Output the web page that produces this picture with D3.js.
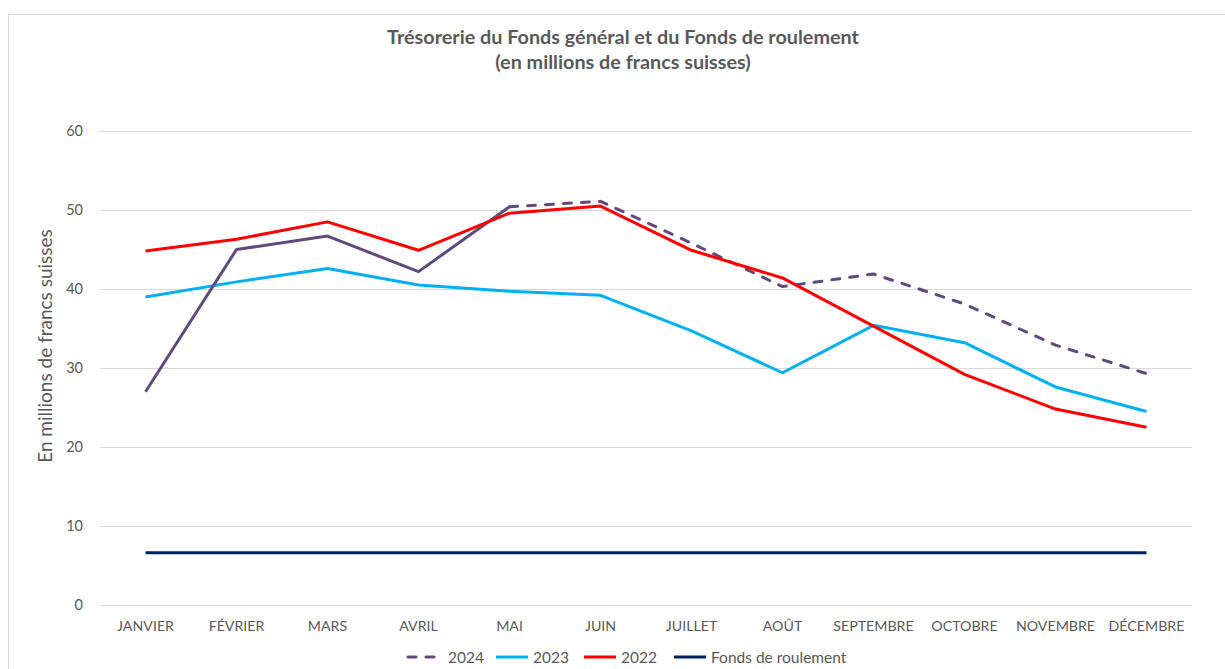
<!DOCTYPE html>
<html>
<head>
<meta charset="utf-8">
<script src="https://cdn.jsdelivr.net/npm/d3@7"></script>
<style>
  body { margin: 0; background: #fff; }
  text { font-family: Lato, "Open Sans", sans-serif; fill: #595959; }
</style>
</head>
<body>
<div></div>
<script>
let months = ["JANVIER", "FÉVRIER", "MARS", "AVRIL", "MAI", "JUIN", "JUILLET", "AOÛT", "SEPTEMBRE", "OCTOBRE", "NOVEMBRE", "DÉCEMBRE"];
let v2024 = [27.0, 45.0, 46.7, 42.2, 50.4, 51.1, 45.8, 40.3, 41.9, 38.1, 32.9, 29.3];
let v2023 = [39.0, 40.9, 42.6, 40.5, 39.7, 39.2, 34.7, 29.4, 35.4, 33.2, 27.6, 24.5];
let v2022 = [44.8, 46.3, 48.5, 44.9, 49.6, 50.5, 44.9, 41.4, 35.3, 29.2, 24.8, 22.5];
let fonds = [6.6, 6.6, 6.6, 6.6, 6.6, 6.6, 6.6, 6.6, 6.6, 6.6, 6.6, 6.6];
let yTicks = [0, 10, 20, 30, 40, 50, 60];
let solidUntil = 4; // 2024 is solid up to MAI, dashed afterwards

let dimension = {
    width: 1225,
    height: 669,
    margin: { top: 131, left: 100, right: 33, bottom: 64 }
};

let svg = d3.select("div")
    .append("svg")
    .attr("width", dimension.width)
    .attr("height", dimension.height);

// chart border
svg.append("rect")
    .attr("x", 8.5).attr("y", 14.5)
    .attr("width", 1240).attr("height", 700)
    .attr("fill", "none")
    .attr("stroke", "#d9d9d9");

let X = d3.scaleBand()
    .domain(months)
    .range([dimension.margin.left, dimension.width - dimension.margin.right]);
let Y = d3.scaleLinear()
    .domain([0, 60])
    .range([dimension.height - dimension.margin.bottom, dimension.margin.top]);
let cx = (m) => X(m) + X.bandwidth() / 2;

// grid
svg.append("g")
    .attr("transform", "translate(" + dimension.margin.left + ",0)")
    .call(d3.axisLeft(Y).tickValues(yTicks)
        .tickSize(-(dimension.width - dimension.margin.right - dimension.margin.left))
        .tickPadding(17))
    .call(g => g.select(".domain").remove())
    .call(g => g.selectAll(".tick line").attr("stroke", "#d9d9d9"))
    .call(g => g.selectAll(".tick text").attr("font-size", 14.5).attr("fill", "#595959")
        .style("font-family", "Lato, sans-serif"));

svg.append("g")
    .attr("transform", "translate(0," + (dimension.height - dimension.margin.bottom) + ")")
    .call(d3.axisBottom(X).tickSize(0).tickPadding(16))
    .call(g => g.select(".domain").remove())
    .call(g => g.selectAll(".tick text").attr("font-size", 14.2).attr("fill", "#595959")
        .style("font-family", "Lato, sans-serif"));

let line = d3.line()
    .x((d) => cx(d.m))
    .y((d) => Y(d.v));
let pts = (arr) => arr.map((v, i) => ({ m: months[i], v: v }));

function drawLine(data, color, dash) {
    svg.append("path")
        .datum(data)
        .attr("d", line)
        .attr("fill", "none")
        .attr("stroke", color)
        .attr("stroke-width", 3)
        .attr("stroke-linejoin", "round")
        .attr("stroke-linecap", dash ? "round" : "butt")
        .attr("stroke-dasharray", dash || null);
}

drawLine(pts(fonds), "#002060");
drawLine(pts(v2023), "#00b0f0");
drawLine(pts(v2024).slice(0, solidUntil + 1), "#604a7b");
drawLine(pts(v2024).slice(solidUntil), "#604a7b", "8,10");
drawLine(pts(v2022), "#ff0000");

// title
let title = svg.append("text")
    .attr("text-anchor", "middle")
    .attr("font-size", 19.8)
    .attr("font-weight", "bold");
title.append("tspan").attr("x", 623).attr("y", 44).text("Trésorerie du Fonds général et du Fonds de roulement");
title.append("tspan").attr("x", 623).attr("y", 69).text("(en millions de francs suisses)");

// y label
svg.append("text")
    .attr("transform", "translate(52,346) rotate(-90)")
    .attr("text-anchor", "middle")
    .attr("font-size", 19)
    .text("En millions de francs suisses");

// legend
let legend = [
    { name: "2024", color: "#604a7b", dash: "8,10", x: 408 },
    { name: "2023", color: "#00b0f0", x: 496 },
    { name: "2022", color: "#ff0000", x: 584 },
    { name: "Fonds de roulement", color: "#002060", x: 674 }
];
let lg = svg.append("g").selectAll("g").data(legend).enter().append("g")
    .attr("transform", (d) => "translate(" + d.x + ",657)");
lg.append("line")
    .attr("x1", 0).attr("x2", (d) => d.dash ? 36 : 32)
    .attr("stroke", (d) => d.color)
    .attr("stroke-width", 3)
    .attr("stroke-linecap", (d) => d.dash ? "round" : "butt")
    .attr("stroke-dasharray", (d) => d.dash || null);
lg.append("text")
    .attr("x", (d) => d.dash ? 40 : 37)
    .attr("y", 5.5)
    .attr("font-size", 15.5)
    .text((d) => d.name);
</script>
</body>
</html>
